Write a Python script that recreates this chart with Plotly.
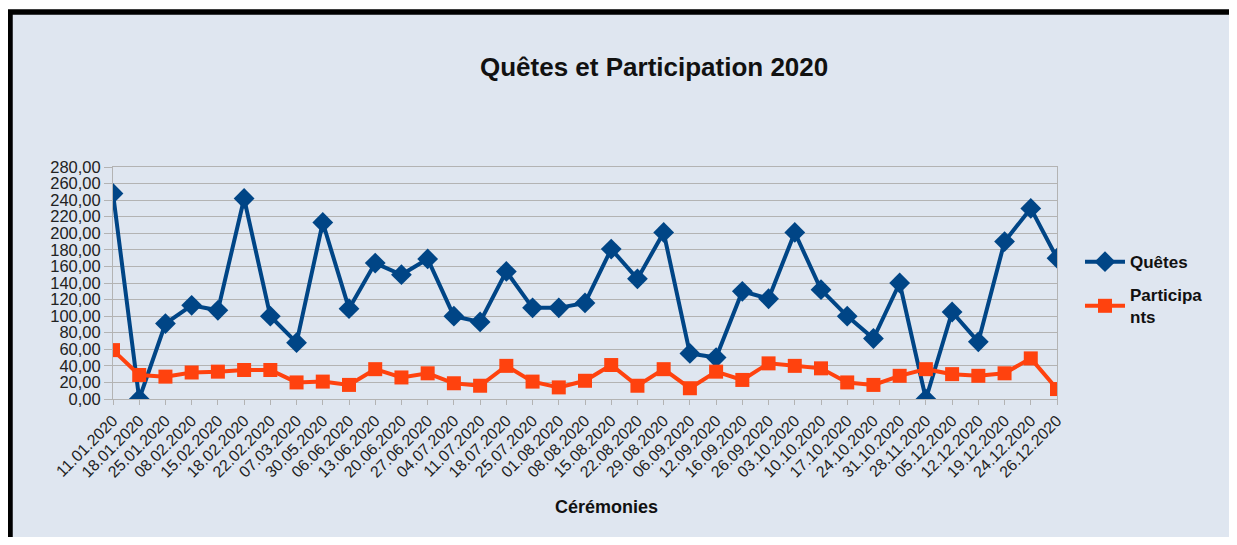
import plotly.graph_objects as go

dates = ["11.01.2020", "18.01.2020", "25.01.2020", "08.02.2020", "15.02.2020", "18.02.2020",
         "22.02.2020", "07.03.2020", "30.05.2020", "06.06.2020", "13.06.2020", "20.06.2020",
         "27.06.2020", "04.07.2020", "11.07.2020", "18.07.2020", "25.07.2020", "01.08.2020",
         "08.08.2020", "15.08.2020", "22.08.2020", "29.08.2020", "06.09.2020", "12.09.2020",
         "16.09.2020", "26.09.2020", "03.10.2020", "10.10.2020", "17.10.2020", "24.10.2020",
         "31.10.2020", "28.11.2020", "05.12.2020", "12.12.2020", "19.12.2020", "24.12.2020",
         "26.12.2020"]
quetes = [248, 0, 91, 113, 107, 242, 100, 68, 213, 109, 164, 150, 169, 100, 93, 154, 110, 110,
          116, 181, 145, 201, 55, 50, 130, 121, 201, 132, 100, 73, 140, 0, 105, 69, 190, 230, 170]
participants = [59, 29, 27, 32, 33, 35, 35, 20, 21, 17, 36, 26, 31, 19, 16, 40, 21, 14,
                22, 41, 16, 36, 13, 33, 23, 43, 40, 37, 20, 17, 28, 36, 30, 28, 31, 49, 12]
y_ticks = list(range(0, 281, 20))

W, H = 1221, 529
L, R, T, B = 105, 1049, 159, 390.7

def px(x):
    return (x - L) / (R - L)

def py(y):
    return 1 - (y - T) / (B - T)

FONT = "Liberation Sans, Arial, sans-serif"

fig = go.Figure()
fig.add_trace(go.Scatter(
    x=dates, y=quetes, name="Quêtes", mode="lines+markers", legendgroup="q",
    line=dict(color="#004586", width=4),
    marker=dict(symbol="diamond", size=16, color="#004586"),
))
fig.add_trace(go.Scatter(
    x=dates, y=participants, name="Participa<br>nts", mode="lines+markers", legendgroup="p",
    line=dict(color="#ff420e", width=4),
    marker=dict(symbol="square", size=14, color="#ff420e"),
))

fig.update_layout(
    width=W, height=H,
    margin=dict(l=L, r=W - R, t=T, b=H - B),
    paper_bgcolor="white",
    plot_bgcolor="#dde8c9",
    separators=", ",
    font=dict(family=FONT, size=16, color="#222"),
    showlegend=True,
    legend=dict(x=px(1072), y=py(236), xanchor="left", yanchor="top",
                bgcolor="rgba(0,0,0,0)", font=dict(size=17, color="#111", family=FONT, weight="bold"),
                tracegroupgap=8, itemwidth=40),
    shapes=[dict(type="rect", xref="paper", yref="paper",
                 x0=px(2), x1=px(1300), y0=py(4.3), y1=py(620),
                 fillcolor="#dfe6f0", line=dict(color="black", width=5.5), layer="below")],
    annotations=[
        dict(text="<b>Quêtes et Participation 2020</b>", xref="paper", yref="paper",
             x=px(646), y=py(59), xanchor="center", yanchor="middle", showarrow=False,
             font=dict(size=26, color="#111", family=FONT)),
        dict(text="<b>Cérémonies</b>", xref="paper", yref="paper",
             x=px(598), y=py(499), xanchor="center", yanchor="middle", showarrow=False,
             font=dict(size=18, color="#111", family=FONT)),
    ],
)
fig.update_xaxes(
    type="category", range=[0, len(dates) - 1], tickangle=-45,
    showgrid=False, showline=True, linecolor="#b3b3b3", mirror=True,
    ticks="outside", ticklen=5, tickcolor="#b3b3b3",
    tickfont=dict(size=16, color="#222", family=FONT),
)
fig.update_yaxes(
    range=[0, 280], tickvals=y_ticks, tickformat=".2f",
    showgrid=True, gridcolor="#b3b3b3", gridwidth=1,
    showline=True, linecolor="#b3b3b3", mirror=True,
    ticks="outside", ticklen=8, tickcolor="#b3b3b3",
    tickfont=dict(size=16.5, color="#222", family=FONT), zeroline=False,
)

fig.write_html("out.html")
